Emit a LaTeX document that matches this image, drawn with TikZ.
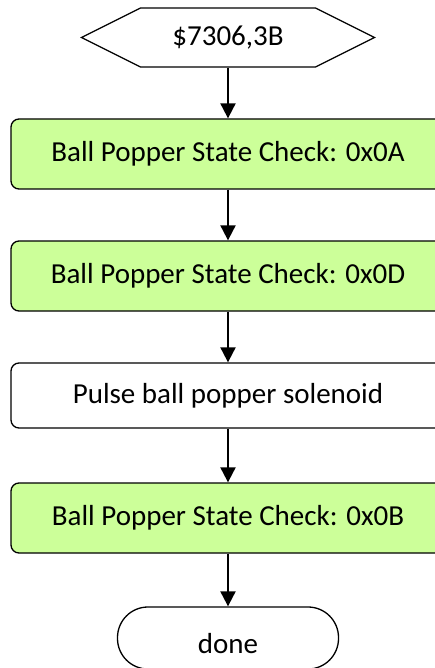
\documentclass[tikz,border=0pt]{standalone}
\usepackage{fontspec}
\setmainfont{Carlito}
\usetikzlibrary{shapes.symbols, arrows.meta}

\definecolor{checkgreen}{RGB}{204,255,153}

\begin{document}
\begin{tikzpicture}[x=1pt, y=-1pt, font=\fontsize{29}{34}\selectfont,
        box/.style={draw, line width=1.3pt, rounded corners=8pt, minimum width=434pt, minimum height=70pt, inner sep=0pt},
        check/.style={box, fill=checkgreen},
        flow/.style={-{Triangle[length=15pt, width=15pt]}, line width=2pt}]
    \useasboundingbox (0, 0) rectangle (435, 668);

    \node[draw, line width=1.2pt, signal, signal to=east and west, signal pointer angle=53.13,
        minimum width=293pt, minimum height=59pt, inner sep=0pt] (entry) at (228, 37.5) {\$7306,3B};
    \node[check] (checkA) at (228, 154) {Ball Popper State Check: 0x0A};
    \node[check] (checkD) at (228, 276) {Ball Popper State Check: 0x0D};
    \node[box, minimum height=65pt] (pulse) at (228, 395.5) {Pulse ball popper solenoid};
    \node[check] (checkB) at (228, 518) {Ball Popper State Check: 0x0B};
    \node[draw, line width=1.3pt, rounded corners=30.5pt, minimum width=221pt, minimum height=62pt, inner sep=0pt]
        (done) at (228, 638) {\raisebox{-6pt}[\height][\depth]{done}};

    % connectors down the chain
    \foreach \a/\b in {entry/checkA, checkA/checkD, checkD/pulse, pulse/checkB, checkB/done} {
        \draw[flow] (\a.south) -- (\b.north);
    }
\end{tikzpicture}
\end{document}
